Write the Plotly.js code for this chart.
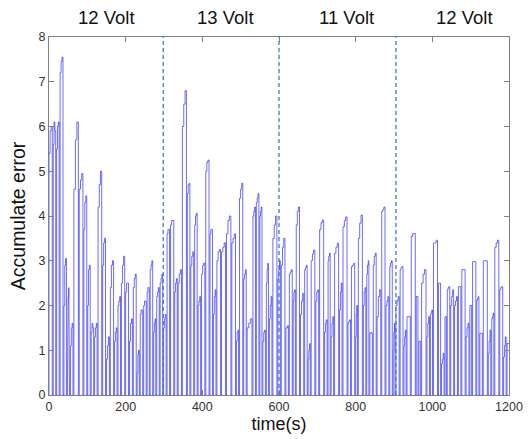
<!DOCTYPE html>
<html>
<head>
<meta charset="utf-8">
<script src="https://cdn.plot.ly/plotly-3.0.1.min.js"></script>
<style>html,body{margin:0;padding:0;background:#fff;}#chart{width:528px;height:439px;}</style>
</head>
<body>
<div id="chart"></div>
<script>
// Tooth start times (s) and the three successive levels of each tooth
const toothStart = [0,11,20,29,39,48,56,65,79,91,101,110,119,128,140,150,160,171,180,189,
  200,210,220,230,238,247,256,264,273,281,290,299,308,317,328,337,348,361,370,380,
  389,398,409,420,429,438,450,463,477,489,497,508,517,532,541,550,558,567,575,584,
  597,606,618,627,637,645,656,667,676,684,696,706,719,728,736,745,758,767,780,789,
  800,807,820,829,837,846,856,868,879,889,898,905,916,926,934,945,958,965,972,986,
  995,1003,1016,1024,1033,1039,1048,1058,1068,1077,1088,1098,1105,1116,1124,1133,1146,1155,1163,1176,
  1186,1195];
const levelA = [5.4,5.6,5.5,7.2,2.0,1.6,1.1,4.6,4.6,3.7,2.0,1.4,1.3,4.2,2.9,0.8,2.4,1.2,2.0,2.5,
  2.3,1.2,2.4,0.5,1.8,2.0,2.3,2.8,1.4,2.2,2.5,1.5,3.6,3.8,2.3,2.5,6.0,4.5,2.9,3.8,
  2.0,2.7,5.0,3.6,1.8,3.0,3.2,3.6,3.4,1.2,4.4,2.6,1.5,4.0,4.3,4.0,1.2,2.5,1.7,3.5,
  2.6,2.9,1.5,2.7,2.1,3.8,1.8,2.8,0.8,3.0,2.1,3.7,1.4,3.0,1.3,3.17,1.9,3.76,1.6,2.87,
  1.3,3.5,2.0,2.7,1.38,2.9,1.75,4.1,2.0,2.87,1.0,2.0,2.8,1.1,1.75,3.54,2.2,1.2,2.5,1.3,
  1.8,3.39,2.5,0.7,1.75,2.35,2.0,2.0,2.42,2.8,1.3,2.0,2.98,2.12,1.38,3.0,0.93,1.7,3.3,2.35,
  0.85,1.15];
const levelB = [5.9,6.1,6.0,7.45,2.9,2.2,1.5,5.7,4.8,4.3,2.8,1.6,1.5,4.7,3.4,1.1,2.9,1.4,2.1,2.9,
  2.5,1.6,2.6,0.9,1.9,2.1,2.4,2.9,1.6,2.3,2.6,1.7,3.7,3.9,2.5,2.7,6.5,4.7,3.1,4.0,
  2.1,2.9,5.2,3.7,2.2,3.2,3.3,3.9,3.5,1.4,4.6,2.7,1.6,4.1,4.4,4.1,1.4,2.8,2.0,3.8,
  2.8,3.3,1.5,2.75,2.3,4.1,2.1,2.85,1.0,3.15,2.3,3.85,1.6,3.1,1.6,3.3,2.3,3.9,1.65,2.9,
  1.8,3.84,2.3,2.9,1.4,3.1,2.2,4.15,2.1,2.95,1.4,2.1,2.85,1.3,1.75,3.6,2.2,1.2,2.7,1.6,
  1.85,3.4,2.5,0.8,1.75,2.4,2.2,2.1,2.42,2.8,1.5,2.0,2.98,2.15,1.38,3.0,1.2,1.75,3.4,2.4,
  1.1,1.15];
const levelC = [6.0,5.9,6.1,7.55,3.05,2.4,1.6,6.1,4.95,4.45,2.9,1.5,1.6,5.0,3.5,1.3,3.0,1.5,2.2,3.1,
  2.5,1.7,2.7,1.0,1.9,2.1,2.4,3.0,1.7,2.4,2.7,1.8,3.7,3.9,2.6,2.8,6.8,4.73,3.2,4.06,
  2.2,2.95,5.25,3.7,2.35,3.25,3.4,4.0,3.6,1.45,4.73,2.8,1.7,4.2,4.5,4.2,1.45,2.94,2.2,4.0,
  3.0,3.5,1.55,2.8,2.35,4.2,2.27,2.9,1.15,3.24,2.35,3.91,1.68,3.17,1.75,3.39,2.5,3.98,1.68,2.94,
  2.0,4.02,2.4,3.0,1.38,3.17,2.35,4.2,2.2,3.0,1.6,2.2,2.87,1.45,1.75,3.61,2.2,1.2,2.8,1.75,
  1.9,3.46,2.5,0.93,1.75,2.42,2.35,2.2,2.42,2.8,1.6,2.0,2.98,2.2,1.38,3.0,1.45,1.83,3.46,2.42,
  1.3,1.15];
const endTime = 1200;
const dividerTimes = [298, 600, 905];
const sectionLabels = ['12 Volt', '13 Volt', '11 Volt', '12 Volt'];
const sectionCenters = [150, 460, 775, 1085];
const xTicks = [0, 200, 400, 600, 800, 1000, 1200];
const yTicks = [0, 1, 2, 3, 4, 5, 6, 7, 8];

// Build the line: each tooth rises from 0, steps through its levels, then resets to 0
const xs = [], ys = [];
const gap = 2.5;
for (let i = 0; i < toothStart.length; i++) {
  const t0 = toothStart[i];
  const tNext = i + 1 < toothStart.length ? toothStart[i + 1] : endTime;
  const last = i + 1 >= toothStart.length;
  const t1 = last ? tNext : tNext - gap;
  const d = (t1 - t0) / 3;
  xs.push(t0, t0, t0 + d, t0 + d, t0 + 2 * d, t0 + 2 * d, t1);
  ys.push(0, levelA[i], levelA[i], levelB[i], levelB[i], levelC[i], levelC[i]);
  if (!last) { xs.push(t1); ys.push(0); }
}

const traces = [{
  x: xs, y: ys, type: 'scatter', mode: 'lines',
  line: {color: 'rgba(20,20,255,0.62)', width: 1},
  hoverinfo: 'skip', showlegend: false
}];

const shapes = dividerTimes.map(t => ({
  type: 'line', xref: 'x', yref: 'paper', x0: t, x1: t, y0: 0, y1: 1,
  line: {color: '#3a7fc0', width: 1.3, dash: '4px,3px'}
}));

const annotations = sectionLabels.map((s, i) => ({
  text: s, x: sectionCenters[i], xref: 'x', y: 1, yref: 'paper',
  yanchor: 'bottom', yshift: 7, showarrow: false,
  font: {family: 'Liberation Sans, Arial, sans-serif', size: 18.5, color: '#111'}
}));

const axisCommon = {
  showline: true, mirror: 'ticks', linecolor: '#808080', linewidth: 1,
  ticks: 'inside', ticklen: 5, tickcolor: '#808080', showgrid: false, zeroline: false,
  tickfont: {family: 'Liberation Sans, Arial, sans-serif', size: 12.5, color: '#333'}
};

const layout = {
  width: 528, height: 439,
  margin: {l: 49, r: 19, t: 37, b: 44},
  paper_bgcolor: '#fff', plot_bgcolor: '#fff',
  xaxis: Object.assign({}, axisCommon, {
    range: [0, 1200], tickvals: xTicks, ticktext: xTicks.map(String),
    title: {text: 'time(s)', standoff: 4, font: {family: 'Liberation Sans, Arial, sans-serif', size: 18, color: '#111'}}
  }),
  yaxis: Object.assign({}, axisCommon, {
    range: [0, 8], tickvals: yTicks, ticktext: yTicks.map(String),
    title: {text: 'Accumulate error', standoff: 7, font: {family: 'Liberation Sans, Arial, sans-serif', size: 19.5, color: '#111'}}
  }),
  shapes: shapes, annotations: annotations
};

Plotly.newPlot('chart', traces, layout, {staticPlot: true, displayModeBar: false});
</script>
</body>
</html>
